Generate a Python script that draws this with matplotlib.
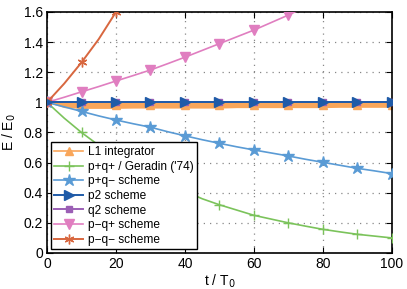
import numpy as np
import matplotlib.pyplot as plt

plt.rcParams['font.family'] = ['Liberation Sans', 'DejaVu Sans']

t = np.arange(0, 101, 5)

# energy ratios (every 5 periods, markers every 10)
L1 = [1.0, 0.985, 0.98, 0.98, 0.98, 0.98, 0.98, 0.98, 0.98, 0.98, 0.98,
      0.98, 0.98, 0.98, 0.98, 0.98, 0.98, 0.98, 0.98, 0.98, 0.98]
L1_hi = [1.0, 1.004, 1.004, 1.004, 1.004, 1.004, 1.004, 1.004, 1.004, 1.004, 1.004,
         1.004, 1.004, 1.004, 1.004, 1.004, 1.004, 1.004, 1.004, 1.004, 1.004]
L1_lo = [1.0, 0.965, 0.96, 0.96, 0.96, 0.962, 0.962, 0.962, 0.962, 0.962, 0.962,
         0.965, 0.965, 0.965, 0.965, 0.965, 0.965, 0.967, 0.967, 0.967, 0.967]
pqpp = [1.0, 0.895, 0.80, 0.715, 0.64, 0.57, 0.51, 0.455, 0.41, 0.36, 0.32,
        0.285, 0.25, 0.225, 0.20, 0.178, 0.157, 0.14, 0.124, 0.112, 0.10]
pqpm = [1.0, 0.97, 0.94, 0.91, 0.883, 0.858, 0.835, 0.805, 0.778, 0.752, 0.728,
        0.705, 0.684, 0.664, 0.644, 0.622, 0.602, 0.582, 0.562, 0.545, 0.527]
p2 = [1.0] * 21
q2 = [1.0] * 21
pmqp = [1.0, 1.034, 1.07, 1.105, 1.142, 1.178, 1.215, 1.257, 1.30, 1.345, 1.39,
        1.435, 1.48, 1.53, 1.58, 1.635, 1.69, 1.745, 1.80, 1.865, 1.93]
pmqm = [1.0, 1.125, 1.265, 1.42, 1.60, 1.80, 2.02, 2.28, 2.56, 2.88, 3.24,
        3.65, 4.10, 4.6, 5.2, 5.85, 6.6, 7.4, 8.3, 9.3, 10.5]

c_L1 = '#F9A65A'
c_pqpp = '#7BC35B'
c_pqpm = '#5A9BD5'
c_p2 = '#1F5BA8'
c_q2 = '#9B5FB5'
c_pmqp = '#E07EC0'
c_pmqm = '#D8673F'

fig = plt.figure(figsize=(4.07, 2.89), dpi=100)
ax = fig.add_axes([0.1155, 0.1246, 0.8475, 0.8339])

me = 2
ax.fill_between(t, L1_lo, L1_hi, color=c_L1, lw=0, zorder=2)
ax.plot(t, L1, '-', marker='^', markevery=me, color=c_L1, ms=6, lw=1.2, label='L1 integrator', zorder=2)
ax.plot(t, pqpp, '-', marker='+', markevery=me, color=c_pqpp, ms=7, mew=1, lw=1.2,
        label="p+q+ / Geradin ('74)", zorder=3)
ax.plot(t, pqpm, '-', marker='*', markevery=me, color=c_pqpm, ms=9, lw=1.2, label='p+q\u2212 scheme', zorder=3)
ax.plot(t, q2, '-', marker='s', markevery=me, color=c_q2, ms=5, lw=1.4, zorder=3)
ax.plot(t, p2, '-', marker='>', markevery=me, color=c_p2, ms=7, lw=1.4, label='p2 scheme', zorder=4)
ax.plot([], [], '-', marker='s', color=c_q2, ms=5, lw=1.4, label='q2 scheme')
ax.plot(t, pmqp, '-', marker='v', markevery=me, color=c_pmqp, ms=7, lw=1.2, label='p\u2212q+ scheme', zorder=3)
ax.plot(t, pmqm, '-', marker=(6, 2, 0), markevery=me, color=c_pmqm, ms=7, mew=1, lw=1.4,
        label='p\u2212q\u2212 scheme', zorder=3)

ax.set_xlim(0, 100)
ax.set_ylim(0, 1.6)
ax.set_xticks(np.arange(0, 101, 20))
ax.set_yticks(np.arange(0, 1.61, 0.2))
ax.set_yticklabels(['0', '0.2', '0.4', '0.6', '0.8', '1', '1.2', '1.4', '1.6'])
ax.tick_params(direction='in', top=True, right=True, labelsize=10, length=4, pad=3)
ax.grid(True, linestyle=(0, (1, 4)), color='#888888', lw=0.9)
for s in ax.spines.values():
    s.set_linewidth(1.2)

ax.set_xlabel('t / T$_0$', fontsize=10, labelpad=1)
ax.set_ylabel('E / E$_0$', fontsize=10, labelpad=4)

leg = ax.legend(loc='lower left', fontsize=8.6, borderaxespad=0.3, handlelength=2.4,
                labelspacing=0.22, borderpad=0.3, handletextpad=0.4, fancybox=False,
                framealpha=1, edgecolor='black')
leg.get_frame().set_linewidth(1.0)

fig.savefig('out.png', dpi=100)
